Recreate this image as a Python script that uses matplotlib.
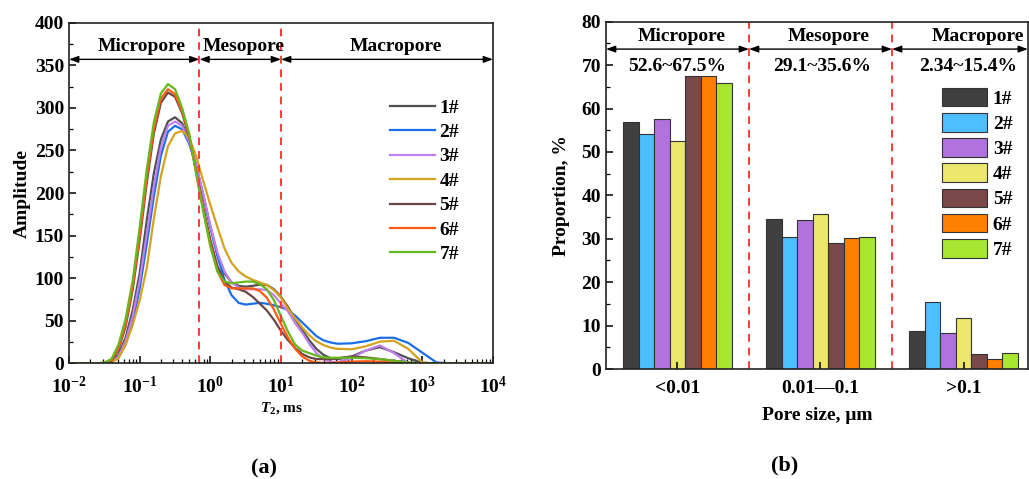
import numpy as np
import matplotlib
matplotlib.use('Agg')
import matplotlib.pyplot as plt
from matplotlib.ticker import MultipleLocator, FixedLocator, LogLocator, NullFormatter

plt.rcParams['font.family'] = ['Liberation Serif', 'DejaVu Serif']
plt.rcParams['font.weight'] = 'bold'
plt.rcParams['axes.labelweight'] = 'bold'
plt.rcParams['mathtext.fontset'] = 'custom'
plt.rcParams['mathtext.rm'] = 'Liberation Serif:bold'
plt.rcParams['mathtext.bf'] = 'Liberation Serif:bold'
plt.rcParams['mathtext.it'] = 'Liberation Serif:bold:italic'

samples = ['1#', '2#', '3#', '4#', '5#', '6#', '7#']

# ---- (a) T2 spectra: log10(T2 / ms) grid and amplitudes
log_t2 = [-2.0, -1.6, -1.5, -1.4, -1.3, -1.2, -1.1, -1.0, -0.9, -0.8, -0.7, -0.6, -0.5,
          -0.4, -0.3, -0.2, -0.1, 0.0, 0.1, 0.2, 0.3, 0.4, 0.5, 0.6, 0.7, 0.8, 0.9, 1.0,
          1.1, 1.2, 1.3, 1.4, 1.5, 1.6, 1.7, 1.8, 2.0, 2.2, 2.4, 2.6, 2.8, 3.0, 3.2, 3.4, 4.0]

amp_1 = [0, 0, 0, 2, 10, 30, 62, 106, 168, 223, 263, 284, 289,
         282, 262, 232, 196, 160, 128, 106, 95, 91, 90, 91, 92.5, 92, 87, 78,
         66, 52, 39, 27, 17, 10, 6, 5, 8, 15, 19, 13, 6, 0.5, 0, 0, 0]
amp_2 = [0, 0, 0, 1, 7, 22, 48, 88, 140, 196, 244, 272, 279,
         275, 258, 232, 198, 160, 126, 98, 80, 71, 69, 70, 71, 70, 68, 66,
         62.5, 56, 48, 40, 32, 27, 24.5, 23, 23.5, 26, 30, 30, 24, 12.5, 1, 0, 0]
amp_3 = [0, 0, 0, 1.5, 8, 26, 55, 97, 152, 208, 254, 279, 284,
         279, 260, 232, 198, 162, 130, 108, 95, 89, 87, 87, 87, 86, 80, 70,
         61, 47, 36, 23, 12, 5, 2, 1.5, 6, 15, 21, 12, 0.5, 0, 0, 0, 0]
amp_4 = [0, 0, 0, 1.5, 6, 22, 45, 74, 112, 170, 220, 255, 270,
         273, 265, 243, 214, 186, 160, 135, 118, 108, 102, 98, 95, 92, 86, 77,
         64, 53, 42, 33, 26, 21.5, 18.5, 17, 16.5, 20, 25.5, 26.5, 17, 1, 0, 0, 0]
amp_5 = [0, 0, 0.5, 3, 16, 43, 86, 145, 212, 270, 306, 318, 313,
         294, 266, 225, 183, 145, 114, 96, 89, 87, 84, 78, 70, 62, 51, 38,
         27, 18, 11, 7, 5, 5, 5, 6, 8, 7, 5, 3, 1, 0, 0, 0, 0]
amp_6 = [0, 0, 0.5, 4, 18, 46, 90, 150, 218, 275, 311, 322, 316,
         296, 268, 224, 180, 140, 108, 92, 88, 88, 88, 88, 85, 77, 63, 46,
         30, 17, 8, 3, 1, 0.5, 0.5, 1, 2, 2.5, 2, 1, 0, 0, 0, 0, 0]
amp_7 = [0, 0, 1, 5, 22, 52, 97, 160, 228, 283, 317, 328, 322,
         300, 270, 222, 178, 137, 108, 96, 94, 95, 96, 96, 93, 87, 74, 55,
         37, 22, 15, 12, 9, 7, 6.5, 6.5, 6.5, 6, 5, 3, 1, 0, 0, 0, 0]

line_colors = ['#505050', '#1a6fe6', '#c080f0', '#d4a21c', '#6b4646', '#ff5a14', '#66b81e']

# ---- (b) pore-size proportions, %
size_classes = ['<0.01', '0.01\u20140.1', '>0.1']
micro = [56.8, 54.2, 57.5, 52.6, 67.5, 67.5, 66.0]
meso = [34.5, 30.4, 34.3, 35.6, 29.1, 30.1, 30.5]
macro = [8.7, 15.4, 8.4, 11.8, 3.4, 2.34, 3.6]
bar_colors = ['#404040', '#4dbeff', '#b072dc', '#ece66c', '#7a4848', '#ff8000', '#a8e632']

red = '#ff3b3b'
fs = 14

fig = plt.figure(figsize=(10.29, 4.79), dpi=100)

# ================= (a)
ax1 = fig.add_axes([0.0671, 0.2415, 0.412, 0.711])
t2 = 10.0 ** np.array(log_t2)
for amp, c, lab in zip([amp_1, amp_2, amp_3, amp_4, amp_5, amp_6, amp_7], line_colors, samples):
    ax1.plot(t2, amp, color=c, lw=1.6, label=lab)
ax1.set_xscale('log')
ax1.set_xlim(1e-2, 1e4)
ax1.set_ylim(0, 400)
ax1.yaxis.set_major_locator(MultipleLocator(50))
ax1.yaxis.set_minor_locator(MultipleLocator(25))
ax1.xaxis.set_major_locator(FixedLocator([1e-2, 1e-1, 1, 1e1, 1e2, 1e3, 1e4]))
ax1.set_xticklabels([r'$10^{-2}$', r'$10^{-1}$', r'$10^{0}$', r'$10^{1}$',
                     r'$10^{2}$', r'$10^{3}$', r'$10^{4}$'])
ax1.xaxis.set_minor_locator(LogLocator(base=10, subs=np.arange(2, 10), numticks=20))
ax1.xaxis.set_minor_formatter(NullFormatter())
ax1.tick_params(which='both', direction='in', labelsize=fs, top=False, right=False)
ax1.tick_params(which='major', length=5, width=1.1)
ax1.tick_params(which='minor', length=3, width=0.9)
ax1.tick_params(axis='x', pad=9)
ax1.set_ylabel('Amplitude', fontsize=fs, labelpad=3)
ax1.set_xlabel(r'$T_2$, ms', fontsize=11, labelpad=2)

for xv in [0.7, 10]:
    ax1.axvline(xv, color=red, lw=1.4, ls=(0, (4, 3)))
bounds_a = [1e-2, 0.7, 10, 1e4]
for x0, x1 in zip(bounds_a[:-1], bounds_a[1:]):
    ax1.annotate('', xy=(x1, 357), xytext=(x0, 357),
                 arrowprops=dict(arrowstyle='<|-|>,head_length=0.55,head_width=0.2',
                                 color='black', lw=1.0, shrinkA=0, shrinkB=0))
ax1.text(0.107, 372, 'Micropore', ha='center', va='center', fontsize=fs)
ax1.text(3.0, 372, 'Mesopore', ha='center', va='center', fontsize=fs)
ax1.text(424, 372, 'Macropore', ha='center', va='center', fontsize=fs)

ax1.legend(loc='upper left', bbox_to_anchor=(0.757, 0.776), frameon=False,
           fontsize=fs, handlelength=2.3, handletextpad=0.25, labelspacing=0.35,
           borderpad=0, borderaxespad=0)

# ================= (b)
ax2 = fig.add_axes([0.5889, 0.2296, 0.410, 0.725])
x = np.arange(1, len(size_classes) + 1)
w = 0.108
for i, (lab, c) in enumerate(zip(samples, bar_colors)):
    vals = [micro[i], meso[i], macro[i]]
    ax2.bar(x + (i - 3) * w, vals, width=w, color=c, edgecolor='#333333', lw=0.8, label=lab)
ax2.set_xlim(0.5, 3.45)
ax2.set_ylim(0, 80)
ax2.set_xticks(x)
ax2.set_xticklabels(size_classes)
ax2.yaxis.set_major_locator(MultipleLocator(10))
ax2.yaxis.set_minor_locator(MultipleLocator(5))
ax2.tick_params(which='both', direction='in', labelsize=fs, top=False, right=False)
ax2.tick_params(which='major', length=5, width=1.1)
ax2.tick_params(which='minor', length=3, width=0.9)
ax2.tick_params(axis='x', pad=8)
ax2.set_ylabel('Proportion, %', fontsize=fs, labelpad=8)
ax2.set_xlabel('Pore size, \u03bcm', fontsize=fs, labelpad=7)

for xv in [1.5, 2.5]:
    ax2.axvline(xv, color=red, lw=1.4, ls=(0, (4, 3)))
bounds_b = [0.5, 1.5, 2.5, 3.45]
for x0, x1 in zip(bounds_b[:-1], bounds_b[1:]):
    ax2.annotate('', xy=(x1, 73.7), xytext=(x0, 73.7),
                 arrowprops=dict(arrowstyle='<|-|>,head_length=0.55,head_width=0.2',
                                 color='black', lw=1.0, shrinkA=0, shrinkB=0))
ranges = ['52.6~67.5%', '29.1~35.6%', '2.34~15.4%']
for xc, name in zip([1.03, 2.06, 3.10], ['Micropore', 'Mesopore', 'Macropore']):
    ax2.text(xc, 76.7, name, ha='center', va='center', fontsize=fs)
for xc, rng in zip([0.995, 2.01, 3.03], ranges):
    ax2.text(xc, 69.6, rng, ha='center', va='center', fontsize=fs)

ax2.legend(loc='upper left', bbox_to_anchor=(0.797, 0.81), frameon=False,
           fontsize=fs, handlelength=2.3, handleheight=1.1, handletextpad=0.3,
           labelspacing=0.27, borderpad=0, borderaxespad=0)

for ax in (ax1, ax2):
    for s in ax.spines.values():
        s.set_linewidth(1.2)
        s.set_color('#222222')

fig.text(264 / 1029, 1 - 468 / 479, '(a)', ha='center', va='center', fontsize=16)
fig.text(785 / 1029, 1 - 465 / 479, '(b)', ha='center', va='center', fontsize=16)

fig.savefig('out.png', dpi=100)
